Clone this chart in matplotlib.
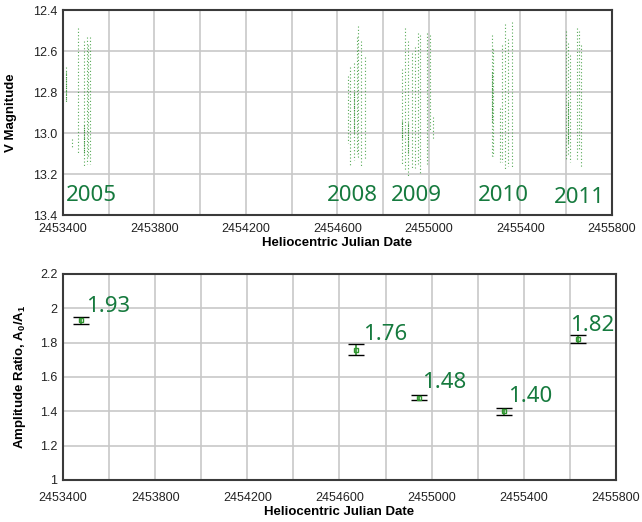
import numpy as np
import matplotlib
matplotlib.use('agg')
import matplotlib.pyplot as plt

# --- light curve: one entry per observing night (HJD, brightest V, faintest V)
night_hjd = [2453413, 2453439, 2453464, 2453492, 2453503, 2453510, 2453518,
             2454648, 2454655, 2454673, 2454684, 2454691, 2454703, 2454720,
             2454880, 2454895, 2454909, 2454924, 2454939, 2454953, 2454961,
             2454990, 2455004, 2455018,
             2455274, 2455281, 2455310, 2455318, 2455332, 2455347, 2455361,
             2455599, 2455609, 2455617, 2455646, 2455656, 2455665]
night_bright = [12.68, 13.03, 12.49, 12.55, 12.53, 12.57, 12.53,
                12.72, 12.68, 12.66, 12.53, 12.48, 12.55, 12.63,
                12.69, 12.49, 12.55, 12.61, 12.58, 12.51, 12.52,
                12.51, 12.52, 12.92,
                12.52, 12.59, 12.88, 12.57, 12.47, 12.54, 12.46,
                12.50, 12.56, 12.62, 12.49, 12.50, 12.57]
night_faint = [12.85, 13.08, 13.10, 13.16, 13.15, 13.12, 13.15,
               13.05, 13.16, 13.13, 13.10, 13.12, 13.16, 13.13,
               13.15, 13.18, 13.21, 13.17, 13.17, 13.15, 13.20,
               13.15, 12.99, 13.03,
               13.12, 13.11, 13.14, 13.14, 13.18, 13.16, 13.17,
               13.13, 13.11, 13.14, 13.13, 13.09, 13.17]

# denser parts of some nights
dense_hjd = [2453492, 2453413, 2454673, 2454880, 2454909, 2455274, 2455609]
dense_bright = [12.96, 12.70, 12.80, 12.94, 12.95, 12.70, 12.85]
dense_faint = [13.10, 12.84, 13.00, 13.03, 13.10, 12.95, 13.05]

season_labels = ['2005', '2008', '2009', '2010', '2011']
season_hjd = [2453413, 2454554, 2454834, 2455214, 2455546]
season_mag = [13.33, 13.33, 13.33, 13.33, 13.34]

# --- amplitude ratios
ratio_hjd = [2453478, 2454670, 2454945, 2455313, 2455637]
ratio_val = [1.93, 1.76, 1.48, 1.40, 1.82]
ratio_err = [0.019, 0.033, 0.014, 0.020, 0.024]
ratio_text = ['1.93', '1.76', '1.48', '1.40', '1.82']
text_offsets = [(4, 6), (5, 7), (2, 7), (3, 7), (-6, 6)]

green_txt = '#167a3e'
green_pts = '#2f952f'
frame_col = '#3a3a3a'
grid_col = '#c8c8c8'

plt.rcParams['font.family'] = ['Liberation Sans', 'DejaVu Sans']
plt.rcParams['mathtext.default'] = 'regular'

fig = plt.figure(figsize=(6.42, 5.22), dpi=100)
ax1 = fig.add_axes([0.0981, 0.5881, 0.8551, 0.3927])
ax2 = fig.add_axes([0.0981, 0.0805, 0.8614, 0.3946])

xticks = np.arange(2453400, 2455801, 200)
xticklabels = ['2453400', '', '2453800', '', '2454200', '', '2454600', '',
               '2455000', '', '2455400', '', '2455800']

for ax in (ax1, ax2):
    ax.set_xlim(2453400, 2455800)
    ax.set_xticks(xticks)
    ax.set_xticklabels(xticklabels)
    ax.grid(True, color=grid_col, linewidth=1.2)
    ax.set_axisbelow(True)
    ax.tick_params(length=0, labelsize=9, pad=4, colors='#222222')
    for s in ax.spines.values():
        s.set_color(frame_col)
        s.set_linewidth(1.5)

ax1.tick_params(axis='x', pad=6)
ax2.tick_params(axis='x', pad=9)
ax1.set_xlabel('Heliocentric Julian Date', fontsize=9.5, fontweight='bold',
               labelpad=1)
ax2.set_xlabel('Heliocentric Julian Date', fontsize=9.5, fontweight='bold',
               labelpad=1)

# top panel: light curve
ax1.vlines(night_hjd, night_bright, night_faint, colors='#45a045',
           linewidth=0.8, linestyles=(0, (1, 2)), alpha=0.9)
ax1.vlines(dense_hjd, dense_bright, dense_faint, colors='#2a8a2a',
           linewidth=0.8, linestyles=(0, (1, 1)), alpha=0.9)
ax1.set_ylim(13.4, 12.4)
ax1.set_yticks(np.arange(12.4, 13.41, 0.2))
ax1.set_yticklabels(['%.1f' % v for v in np.arange(12.4, 13.41, 0.2)])
ax1.set_ylabel('V Magnitude', fontsize=9.5, fontweight='bold')
ax1.yaxis.set_label_coords(-0.083, 0.5)
for lab, x, y in zip(season_labels, season_hjd, season_mag):
    ax1.text(x, y, lab, color=green_txt, fontsize=16, family='Noto Sans',
             ha='left', va='baseline')

# bottom panel: amplitude ratio
eb = ax2.errorbar(ratio_hjd, ratio_val, yerr=ratio_err, fmt='s',
                  ms=3.5, mfc='none', mec=green_pts, mew=1.0,
                  ecolor=green_pts, elinewidth=1.2, capsize=5.5, capthick=1.6)
for cap in eb[1]:
    cap.set_color('black')
    cap.set_markeredgecolor('black')
ax2.set_ylim(1.0, 2.2)
ax2.set_yticks([1.0, 1.2, 1.4, 1.6, 1.8, 2.0, 2.2])
ax2.set_yticklabels(['1', '1.2', '1.4', '1.6', '1.8', '2', '2.2'])
ax2.set_ylabel('Amplitude Ratio, A$_0$/A$_1$', fontsize=9.5, fontweight='bold')
ax2.yaxis.set_label_coords(-0.063, 0.5)
for x, y, t, off in zip(ratio_hjd, ratio_val, ratio_text, text_offsets):
    ax2.annotate(t, (x, y), xytext=off, textcoords='offset points',
                 color=green_txt, fontsize=16, family='Noto Sans',
                 ha='left', va='baseline')

fig.savefig('out.png', dpi=100)
